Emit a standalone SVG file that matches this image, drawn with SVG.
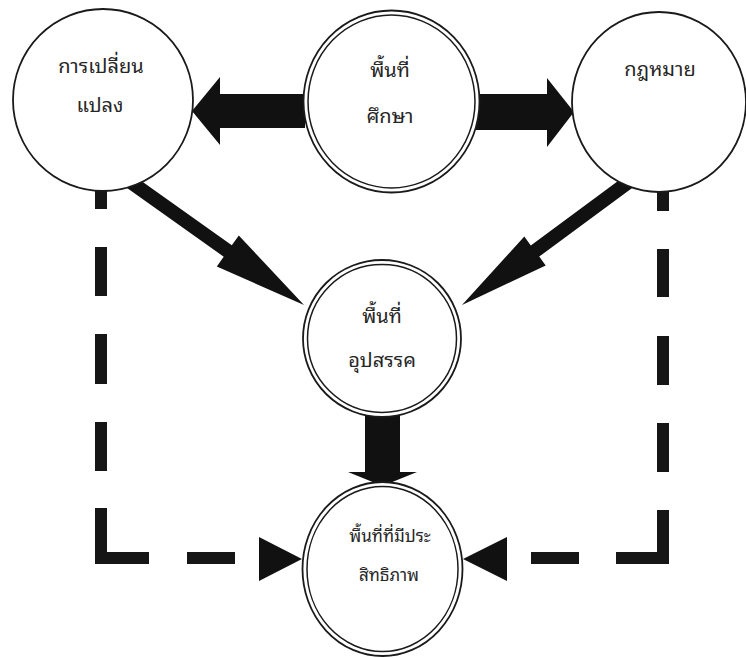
<svg xmlns="http://www.w3.org/2000/svg" width="746" height="658" viewBox="0 0 746 658">
<style>
.node{fill:#fff;stroke:#1a1a1a;stroke-width:1.8}
.inner{fill:none;stroke:#1a1a1a;stroke-width:1.5}
.lbl{font-family:"Noto Sans Thai Looped","Loma","Garuda","Noto Sans Thai","Noto Sans","Liberation Sans",sans-serif;font-size:20px;fill:#262626;text-anchor:middle}
.arrow{fill:#111;stroke:none}
.dash{fill:none;stroke:#161616;stroke-width:12;stroke-linecap:butt;stroke-linejoin:miter}
</style>
<rect width="746" height="658" fill="#fff"/>
<g id="connectors">
  <polygon class="arrow" points="305,94 220,94 220,77 192,111 220,145 220,128 305,128"/>
  <polygon class="arrow" points="470,94 547,94 547,78 574,112 547,147 547,130 470,130"/>
  <polygon class="arrow" points="134,175.8 231.8,245.3 238.8,235.5 304,305 216.8,266.5 223.7,256.7 126,187.2"/>
  <polygon class="arrow" points="625.8,175.2 530.8,245.4 524.3,236.5 462,305 545.7,265.5 539.2,256.6 634.2,186.4"/>
  <polygon class="arrow" points="365,405 400,405 400,472 417,472 382.5,486 348,472 365,472"/>
  <path class="dash" d="M101,160 V209 M101,247 V296 M101,334 V384 M101,422 V471 M101,508 V558 H149 M187,558 H235"/>
  <path class="dash" d="M663,160 V211 M663,249 V297 M663,336 V385 M663,423 V472 M663,510 V558 H616 M579,558 H531"/>
  <polygon class="arrow" points="259,537 259,581 302,559"/>
  <polygon class="arrow" points="507,537 507,581 463,559"/>
</g>
<g id="node-change">
  <ellipse class="node" cx="103" cy="100" rx="90" ry="91"/>
  <text class="lbl" x="101" y="73">การเปลี่ยน</text>
  <text class="lbl" x="100" y="112">แปลง</text>
</g>
<g id="node-study">
  <ellipse class="node" cx="391.5" cy="101.5" rx="88" ry="91"/>
  <ellipse class="inner" cx="391.5" cy="101.5" rx="83.5" ry="86.5"/>
  <text class="lbl" x="390" y="77">พื้นที่</text>
  <text class="lbl" x="390" y="123">ศึกษา</text>
</g>
<g id="node-law">
  <ellipse class="node" cx="659" cy="102" rx="87" ry="90"/>
  <text class="lbl" x="660" y="76">กฎหมาย</text>
</g>
<g id="node-obstacle">
  <ellipse class="node" cx="382" cy="338.5" rx="79" ry="78.5"/>
  <ellipse class="inner" cx="382" cy="338.5" rx="74.5" ry="74"/>
  <text class="lbl" x="382" y="323">พื้นที่</text>
  <text class="lbl" x="382" y="367">อุปสรรค</text>
</g>
<g id="node-efficient">
  <ellipse class="node" cx="382.5" cy="569" rx="80" ry="87"/>
  <ellipse class="inner" cx="382.5" cy="569" rx="75.5" ry="82.5"/>
  <text class="lbl" x="390" y="542" style="font-size:17px">พื้นที่ที่มีประ</text>
  <text class="lbl" x="389" y="581" style="font-size:17px">สิทธิภาพ</text>
</g>
</svg>
